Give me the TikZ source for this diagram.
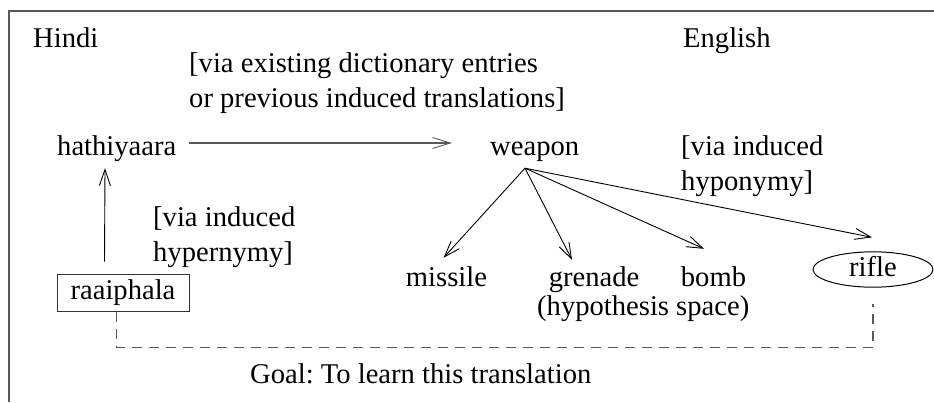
\documentclass[tikz,border=0pt]{standalone}
\usepackage{fontspec}
\setmainfont{Liberation Serif}
\usetikzlibrary{arrows.meta,shapes.geometric,calc}
\frenchspacing
\definecolor{framegray}{gray}{0.35}
\tikzset{
  lbl/.style={inner sep=0pt, anchor=base west, font=\fontsize{28.6}{35}\selectfont, text height=20pt, text depth=6pt},
  mlbl/.style={inner sep=0pt, anchor=base west, font=\fontsize{28.6}{35}\selectfont, align=left},
  word/.style={inner sep=0pt, anchor=base, font=\fontsize{28.6}{35}\selectfont, text height=20pt, text depth=6pt},
  arr/.style={draw=black, line width=0.9pt, -{Straight Barb[length=16pt,width=11pt]}},
  harr/.style={draw=framegray, line width=1.4pt, -{Straight Barb[length=18pt,width=11pt,line width=0.9pt]}},
  frameline/.style={draw=framegray, line width=1.6pt},
  dsh/.style={draw=framegray, line width=1.3pt, dash pattern=on 10pt off 7pt},
  boxnode/.style={draw=black!80, line width=1pt, inner xsep=0pt, inner ysep=6pt, minimum width=132pt, anchor=base, font=\fontsize{28.6}{35}\selectfont, text height=19pt, text depth=6pt},
  ellnode/.style={ellipse, draw=black, line width=1pt, inner sep=0pt, minimum width=120pt, minimum height=35pt, font=\fontsize{28.6}{35}\selectfont, text height=19pt, text depth=6pt}
}
\begin{document}
\begin{tikzpicture}[x=1pt,y=-1pt]
\useasboundingbox (0,0) rectangle (934,402);
\draw[frameline] (9,402) -- (9,11) -- (934,11);
% labels (multi-line: base = last line)
\node[lbl] (hindi) at (33,47) {Hindi};
\node[lbl] (english) at (683,47) {English};
\node[mlbl] (toplbl) at (189,107) {[via existing dictionary entries\\or previous induced translations]};
\node[mlbl] (hyperlbl) at (153,261) {[via induced\\hypernymy]};
\node[mlbl] (hypolbl) at (681,190) {[via induced\\hyponymy]};
% words
\node[lbl] (hath) at (57,155) {hathiyaara};
\node[lbl] (weapon) at (490,155) {weapon};
\node[word] (missile) at (446.5,286) {missile};
\node[word] (grenade) at (594,286) {grenade};
\node[word] (bomb) at (713.5,286) {bomb};
\node[lbl] (hyp) at (537,315) {(hypothesis space)};
\node[ellnode] (rifle) at (873,269.5) {rifle};
\node[boxnode] (raai) at (123,299) {raaiphala};
\node[lbl] (goal) at (250,383) {Goal: To learn this translation};
% connectors
\draw[harr] ([xshift=13pt,yshift=5pt]hath.east) -- ([xshift=-38pt,yshift=5pt]weapon.west);
\draw[arr] ([xshift=48pt,yshift=12pt]raai.north west) -- ([xshift=48pt,yshift=-7pt]hath.south west);
\coordinate (wp) at ([xshift=35pt,yshift=-7pt]weapon.south west);
\draw[arr] (wp) -- ([xshift=-3pt,yshift=8pt]missile.north);
\draw[arr] (wp) -- ([xshift=-22pt,yshift=6pt]grenade.north);
\draw[arr] (wp) -- ([xshift=-9.5pt,yshift=17pt]bomb.north);
\draw[arr] (wp) -- ([xshift=-1pt,yshift=14pt]rifle.north);
\draw[dsh] ([xshift=60pt]raai.south west) -- ++(0,36) -| ([yshift=-16pt]rifle.south);
\end{tikzpicture}
\end{document}
